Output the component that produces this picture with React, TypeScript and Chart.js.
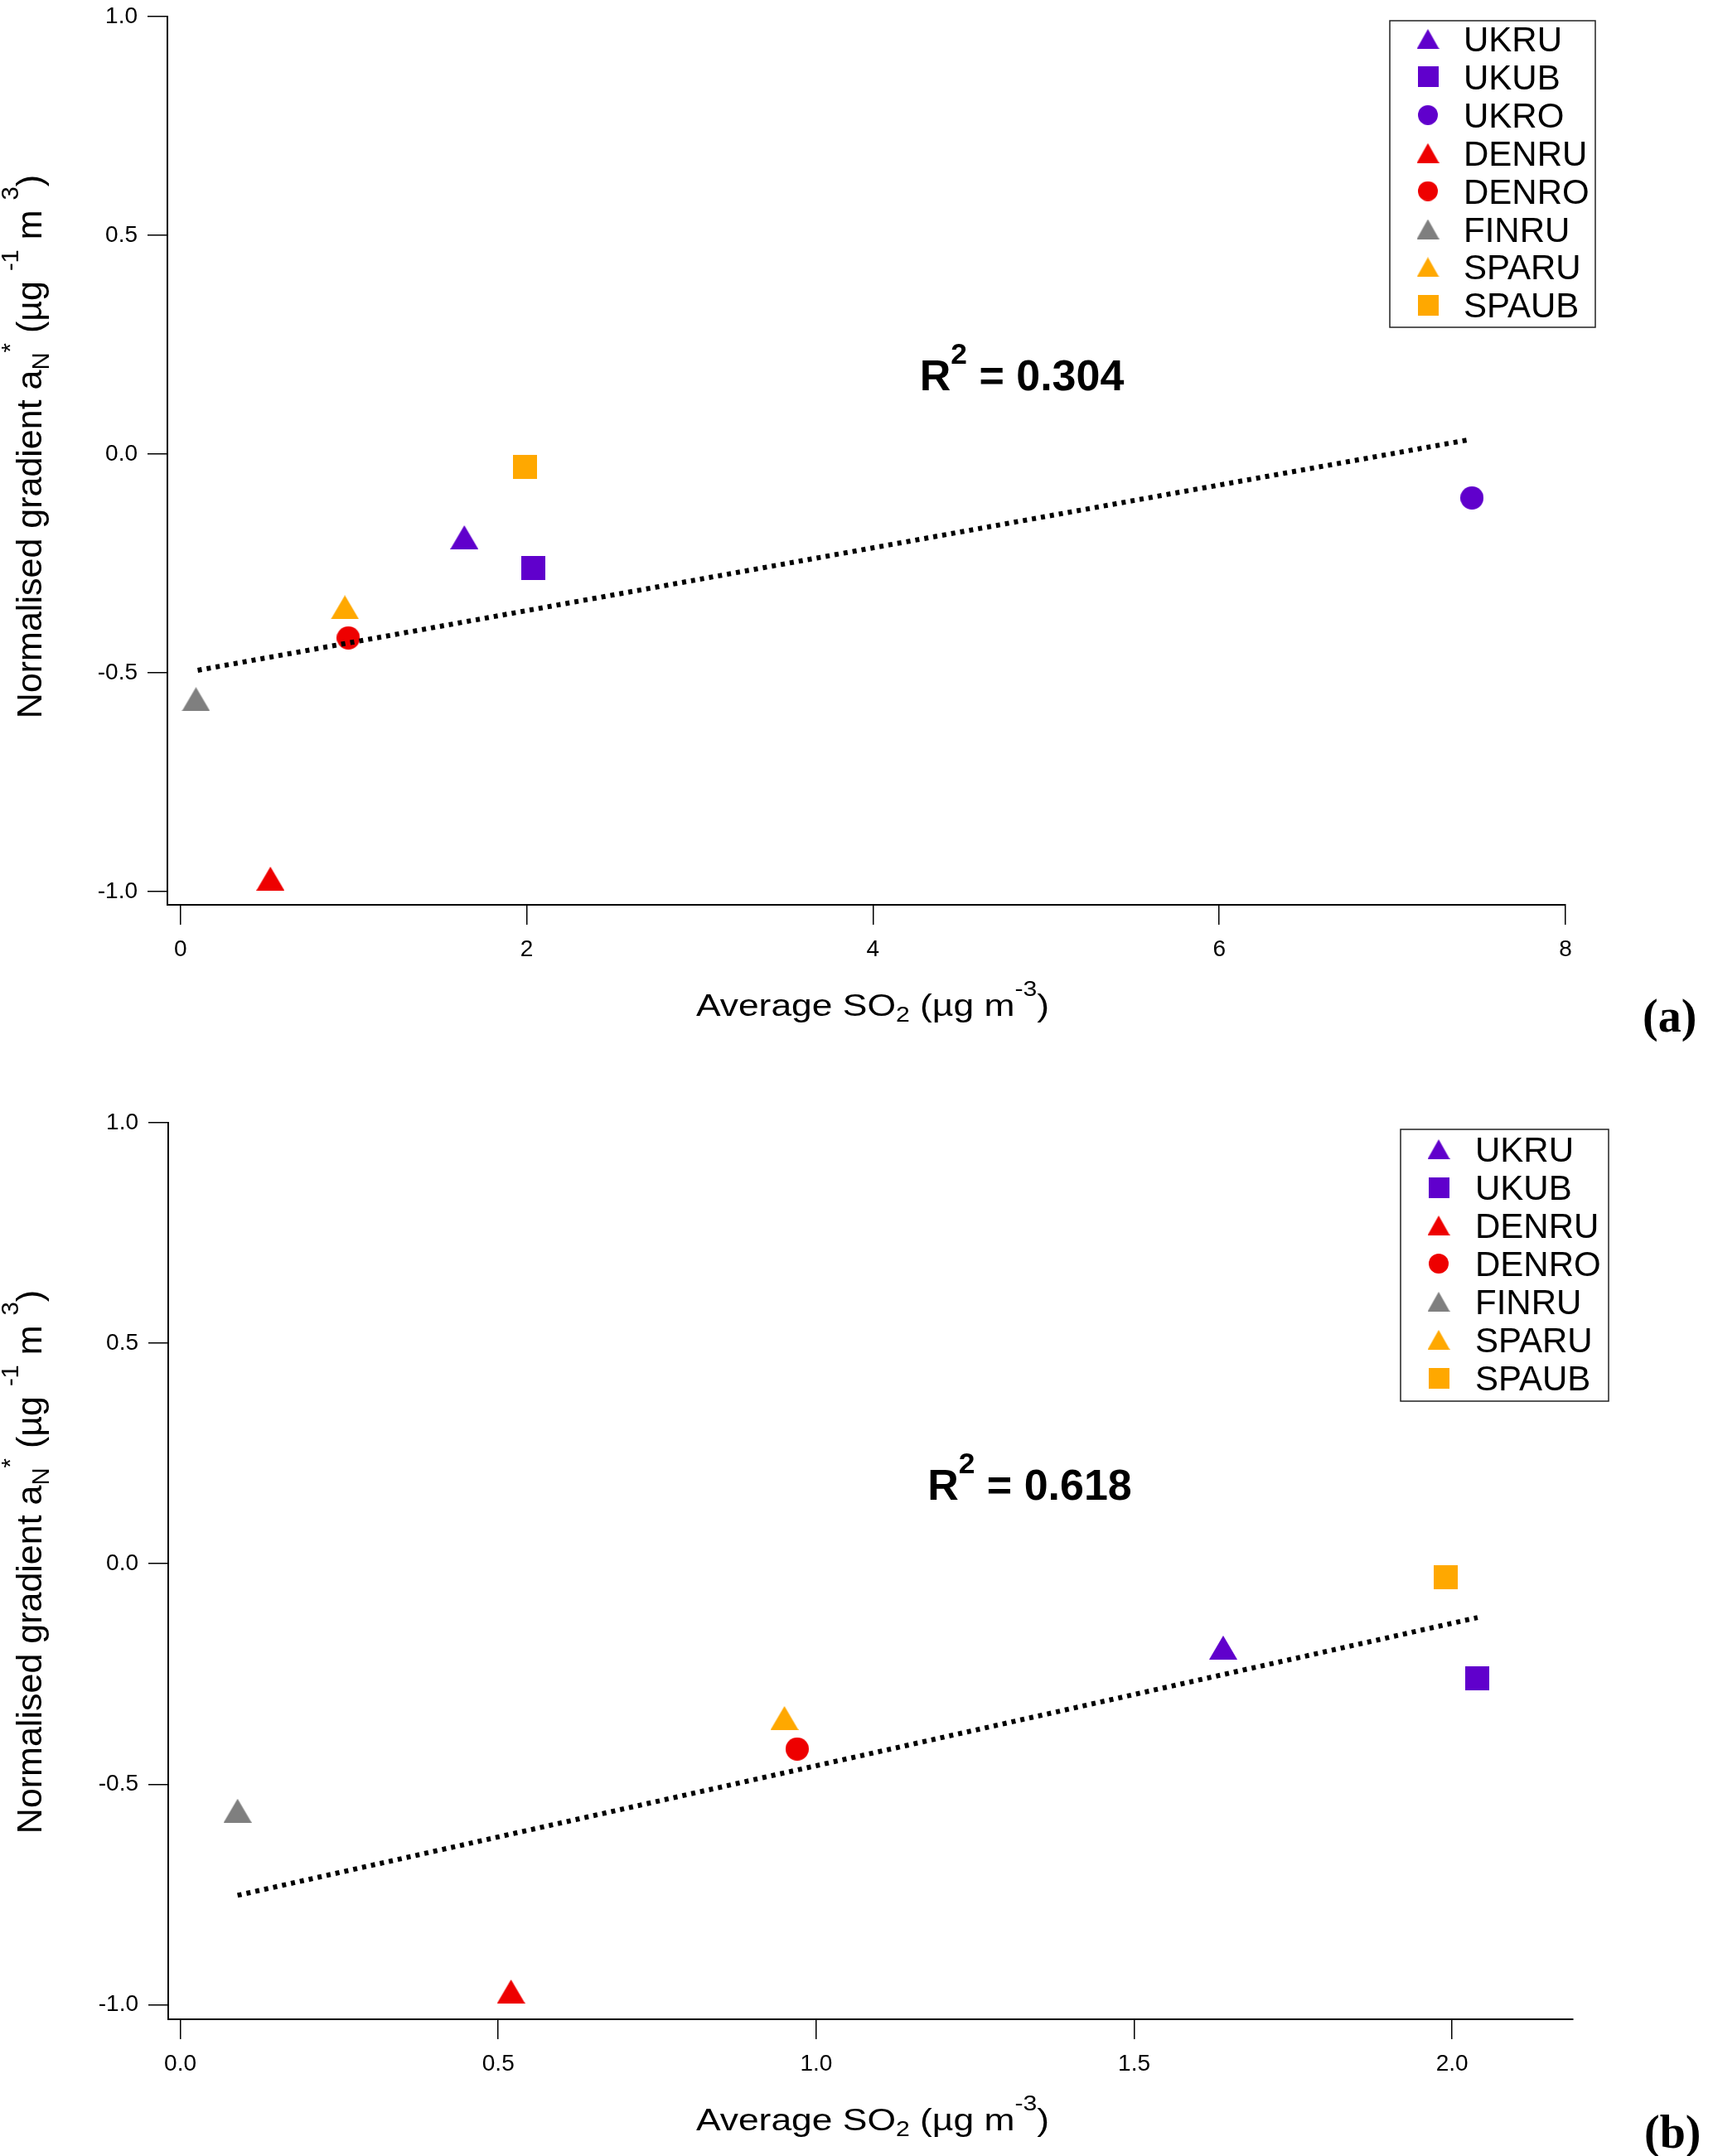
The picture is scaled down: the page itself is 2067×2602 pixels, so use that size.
import { useEffect, useRef } from "react";
import { Chart, registerables } from "chart.js";

Chart.register(...registerables);

// Site data
const SITES = ["UKRU", "UKUB", "UKRO", "DENRU", "DENRO", "FINRU", "SPARU", "SPAUB"];
const AVG_SO2 = [1.64, 2.04, 7.46, 0.52, 0.97, 0.09, 0.95, 1.99];
const GRADIENT = [-0.19, -0.26, -0.1, -0.97, -0.42, -0.56, -0.35, -0.03];
// panel (b) drops the UKRO outlier
const SITES_B = ["UKRU", "UKUB", "DENRU", "DENRO", "FINRU", "SPARU", "SPAUB"];

// fitted trend lines (end points)
const FIT_A_X = [0.1, 7.43];
const FIT_A_Y = [-0.494, 0.032];
const FIT_B_X = [0.09, 2.04];
const FIT_B_Y = [-0.752, -0.122];

const X_TICKS_A = [0, 2, 4, 6, 8];
const X_TICKS_B = [0, 0.5, 1, 1.5, 2];
const Y_TICKS = [-1, -0.5, 0, 0.5, 1];

const R2_A = "0.304";
const R2_B = "0.618";

const SANS = '"Liberation Sans", Arial, Helvetica, sans-serif';
const SERIF = '"Liberation Serif", "Times New Roman", serif';

const PURPLE = "#6000cc";
const RED = "#ee0000";
const GRAY = "#7f7f7f";
const ORANGE = "#ffa800";

type Shape = "tri" | "sq" | "ci";

const SITE_STYLE: Record<string, { color: string; shape: Shape }> = {
  UKRU: { color: PURPLE, shape: "tri" },
  UKUB: { color: PURPLE, shape: "sq" },
  UKRO: { color: PURPLE, shape: "ci" },
  DENRU: { color: RED, shape: "tri" },
  DENRO: { color: RED, shape: "ci" },
  FINRU: { color: GRAY, shape: "tri" },
  SPARU: { color: ORANGE, shape: "tri" },
  SPAUB: { color: ORANGE, shape: "sq" },
};

const PLOT_SIZE: Record<Shape, [number, number]> = { tri: [34, 29], sq: [29, 29], ci: [28, 28] };
const LEGEND_SIZE: Record<Shape, [number, number]> = { tri: [27, 24], sq: [25, 25], ci: [24, 24] };

// marker drawn centred on its bounding box
function makeMarker(shape: Shape, color: string, w: number, h: number) {
  const c = document.createElement("canvas");
  c.width = w;
  c.height = h;
  const g = c.getContext("2d")!;
  g.fillStyle = color;
  g.beginPath();
  if (shape === "tri") {
    g.moveTo(w / 2, 0);
    g.lineTo(w, h);
    g.lineTo(0, h);
    g.closePath();
  } else if (shape === "sq") {
    g.rect(0, 0, w, h);
  } else {
    g.arc(w / 2, h / 2, Math.min(w, h) / 2, 0, Math.PI * 2);
  }
  g.fill();
  return c;
}

type Seg = { t: string; k?: "sub" | "sup" };

const X_TITLE: Seg[] = [
  { t: "Average SO" },
  { t: "2", k: "sub" },
  { t: " (µg m" },
  { t: "-3", k: "sup" },
  { t: ")" },
];

const Y_TITLE: Seg[] = [
  { t: "Normalised gradient a" },
  { t: "N", k: "sub" },
  { t: "*", k: "sup" },
  { t: " (µg " },
  { t: "-1", k: "sup" },
  { t: " m " },
  { t: "3", k: "sup" },
  { t: ")" },
];

function drawRich(
  ctx: CanvasRenderingContext2D,
  segs: Seg[],
  x: number,
  y: number,
  size: number,
  weight: string,
  align: "left" | "center",
  scaleX = 1,
  supRaise = 0.65,
) {
  const fontFor = (s: Seg) => `${weight} ${s.k ? size * 0.68 : size}px ${SANS}`;
  let total = 0;
  for (const s of segs) {
    ctx.font = fontFor(s);
    total += ctx.measureText(s.t).width;
  }
  ctx.save();
  ctx.translate(align === "center" ? x - (total * scaleX) / 2 : x, y);
  ctx.scale(scaleX, 1);
  ctx.textAlign = "left";
  ctx.textBaseline = "alphabetic";
  let cx = 0;
  for (const s of segs) {
    ctx.font = fontFor(s);
    const dy = s.k === "sup" ? -supRaise * size : s.k === "sub" ? 0.2 * size : 0;
    ctx.fillText(s.t, cx, dy);
    cx += ctx.measureText(s.t).width;
  }
  ctx.restore();
}

interface PanelLayout {
  top: number;
  height: number;
  area: { left: number; right: number; top: number; bottom: number };
  legend: { x: number; y: number; w: number; h: number; first: number; step: number; markerX: number; textX: number };
  xTitle: { cx: number; base: number };
  yTitle: { x: number; cy: number };
  tag: { x: number; base: number };
}

interface PanelProps {
  sites: string[];
  fitX: number[];
  fitY: number[];
  xTicks: number[];
  xMin: number;
  xMax: number;
  yMin: number;
  decimals: number;
  r2: string;
  r2At: { x: number; y: number };
  tag: string;
  lay: PanelLayout;
}

const WIDTH = 2067;

function Panel(props: PanelProps) {
  const ref = useRef<HTMLCanvasElement>(null);

  useEffect(() => {
    if (!ref.current) return;
    const { sites, fitX, fitY, xTicks, xMin, xMax, yMin, decimals, r2, r2At, tag, lay } = props;

    const siteSets = sites.map((name) => {
      const i = SITES.indexOf(name);
      const st = SITE_STYLE[name];
      const [pw, ph] = PLOT_SIZE[st.shape];
      const [lw, lh] = LEGEND_SIZE[st.shape];
      return {
        label: name,
        data: [{ x: AVG_SO2[i], y: GRADIENT[i] }],
        pointStyle: makeMarker(st.shape, st.color, pw, ph),
        legendImg: makeMarker(st.shape, st.color, lw, lh),
        pointRadius: 15,
        backgroundColor: st.color,
        borderColor: st.color,
        clip: false as const,
      };
    });

    const fitSet = {
      label: "fit",
      data: fitX.map((x, i) => ({ x, y: fitY[i] })),
      showLine: true,
      borderColor: "#000",
      borderWidth: 6,
      borderDash: [5, 6],
      pointRadius: 0,
      order: -1,
      clip: false as const,
    };

    const deco = {
      id: "deco",
      afterDraw(chart: any) {
        const ctx: CanvasRenderingContext2D = chart.ctx;
        const xs = chart.scales.x;
        const ys = chart.scales.y;
        ctx.save();
        ctx.fillStyle = "#000";

        // R² annotation
        drawRich(
          ctx,
          [{ t: "R" }, { t: "2", k: "sup" }, { t: " = " + r2 }],
          xs.getPixelForValue(r2At.x),
          ys.getPixelForValue(r2At.y),
          52,
          "bold",
          "left",
          1,
          0.62,
        );

        // axis titles
        drawRich(ctx, X_TITLE, lay.xTitle.cx, lay.xTitle.base, 37, "normal", "center", 1.2);
        ctx.save();
        ctx.translate(lay.yTitle.x, lay.yTitle.cy);
        ctx.rotate(-Math.PI / 2);
        drawRich(ctx, Y_TITLE, 0, 0, 43, "normal", "center", 1);
        ctx.restore();

        // legend box
        const L = lay.legend;
        ctx.fillStyle = "#fff";
        ctx.fillRect(L.x, L.y, L.w, L.h);
        ctx.strokeStyle = "#222";
        ctx.lineWidth = 1.5;
        ctx.strokeRect(L.x, L.y, L.w, L.h);
        ctx.fillStyle = "#000";
        ctx.font = `42px ${SANS}`;
        ctx.textAlign = "left";
        ctx.textBaseline = "alphabetic";
        const entries = chart.data.datasets.filter((d: any) => d.legendImg);
        entries.forEach((d: any, k: number) => {
          const cy = L.first + k * L.step;
          const img: HTMLCanvasElement = d.legendImg;
          ctx.drawImage(img, L.markerX - img.width / 2, cy - img.height / 2);
          ctx.fillText(d.label, L.textX, cy + 15);
        });

        // panel tag
        ctx.font = `bold 56px ${SERIF}`;
        ctx.fillText(tag, lay.tag.x, lay.tag.base);
        ctx.restore();
      },
    };

    const tickFont = { family: SANS, size: 28 };
    const grid = {
      drawOnChartArea: false,
      drawTicks: true,
      tickLength: 24,
      tickColor: "#000",
      tickWidth: 1.5,
      color: "#000",
      lineWidth: 1.5,
    };

    const chart = new Chart(ref.current, {
      type: "scatter",
      data: { datasets: [fitSet as any, ...siteSets] },
      options: {
        animation: false,
        responsive: true,
        maintainAspectRatio: false,
        devicePixelRatio: 1,
        events: [],
        layout: {
          padding: { left: 0, top: lay.area.top, right: WIDTH - lay.area.right, bottom: 0 },
        },
        plugins: {
          legend: { display: false },
          tooltip: { enabled: false },
        },
        scales: {
          x: {
            type: "linear",
            min: xMin,
            max: xMax,
            afterFit: (s: any) => {
              s.height = lay.height - lay.area.bottom;
            },
            afterBuildTicks: (s: any) => {
              s.ticks = xTicks.map((v) => ({ value: v }));
            },
            ticks: {
              font: tickFont,
              color: "#000",
              padding: 13,
              maxRotation: 0,
              autoSkip: false,
              callback: (v: any) => Number(v).toFixed(decimals),
            },
            grid,
            border: { display: true, color: "#000", width: 2 },
            title: { display: false },
          },
          y: {
            type: "linear",
            min: yMin,
            max: 1,
            afterFit: (s: any) => {
              s.width = lay.area.left;
            },
            afterBuildTicks: (s: any) => {
              s.ticks = Y_TICKS.map((v) => ({ value: v }));
            },
            ticks: {
              font: tickFont,
              color: "#000",
              padding: 12,
              autoSkip: false,
              callback: (v: any) => Number(v).toFixed(1),
            },
            grid,
            border: { display: true, color: "#000", width: 2 },
            title: { display: false },
          },
        },
      },
      plugins: [deco],
    });

    return () => chart.destroy();
  }, []);

  return (
    <div
      style={{
        position: "absolute",
        left: 0,
        top: props.lay.top,
        width: WIDTH,
        height: props.lay.height,
      }}
    >
      <canvas ref={ref} />
    </div>
  );
}

// panel (a) canvas starts 10px above the page so the plot top can sit at y=20
const LAYOUT_A: PanelLayout = {
  top: -10,
  height: 1310,
  area: { left: 202, right: 1889, top: 30, bottom: 1102 },
  legend: { x: 1677, y: 35, w: 248, h: 370, first: 57, step: 45.9, markerX: 1723, textX: 1766 },
  xTitle: { cx: 1053, base: 1236 },
  yTitle: { x: 50, cy: 549 },
  tag: { x: 1982, base: 1255 },
};

const LAYOUT_B: PanelLayout = {
  top: 1300,
  height: 1302,
  area: { left: 203, right: 1898, top: 55, bottom: 1137 },
  legend: { x: 1690, y: 63, w: 251, h: 328, first: 87, step: 46, markerX: 1736, textX: 1780 },
  xTitle: { cx: 1053, base: 1271 },
  yTitle: { x: 50, cy: 585 },
  tag: { x: 1984, base: 1292 },
};

export default function App() {
  return (
    <div
      style={{
        position: "absolute",
        left: 0,
        top: 0,
        width: WIDTH,
        height: 2602,
        overflow: "hidden",
        background: "#fff",
      }}
    >
      <Panel
        sites={SITES}
        fitX={FIT_A_X}
        fitY={FIT_A_Y}
        xTicks={X_TICKS_A}
        xMin={-0.075}
        xMax={8}
        yMin={-1.03}
        decimals={0}
        r2={R2_A}
        r2At={{ x: 4.27, y: 0.146 }}
        tag="(a)"
        lay={LAYOUT_A}
      />
      <Panel
        sites={SITES_B}
        fitX={FIT_B_X}
        fitY={FIT_B_Y}
        xTicks={X_TICKS_B}
        xMin={-0.019}
        xMax={2.19}
        yMin={-1.033}
        decimals={1}
        r2={R2_B}
        r2At={{ x: 1.175, y: 0.145 }}
        tag="(b)"
        lay={LAYOUT_B}
      />
    </div>
  );
}
